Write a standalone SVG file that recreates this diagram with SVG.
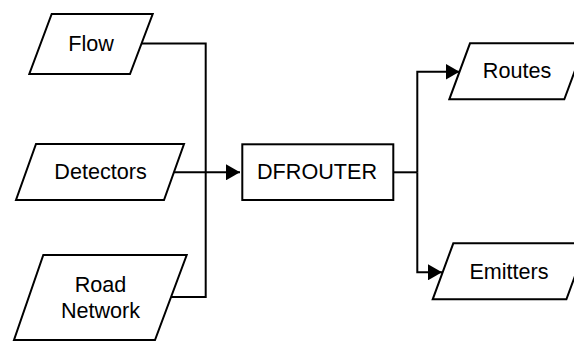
<svg xmlns="http://www.w3.org/2000/svg" width="574" height="342" viewBox="0 0 574 342">
<style>
.shape{fill:#fff;stroke:#000;stroke-width:2;stroke-linejoin:miter}
.lbl{font-family:"Liberation Sans",Arial,Helvetica,sans-serif;font-size:21.6px;fill:#000;text-anchor:middle}
.edge{fill:none;stroke:#000;stroke-width:2}
</style>
<defs>
<marker id="arrow" viewBox="0 0 14 16" refX="14" refY="8" markerWidth="14" markerHeight="16" markerUnits="userSpaceOnUse" orient="auto">
<path d="M0,0 L14,8 L0,16 Z" fill="#000"/>
</marker>
</defs>
<rect width="574" height="342" fill="#fff"/>
<g id="connectors">
<path class="edge" d="M141.5,43.5 H205.7 V297 H171"/>
<path class="edge" d="M174,172.3 H240" marker-end="url(#arrow)"/>
<path class="edge" d="M393.3,172.3 H417.3"/>
<path class="edge" d="M417.3,172.3 V71.7 H459.5" marker-end="url(#arrow)"/>
<path class="edge" d="M417.3,172.3 V272.3 H442" marker-end="url(#arrow)"/>
</g>
<g id="flow">
<polygon class="shape" points="51.7,14 152.7,14 130,74 29.3,74"/>
<text class="lbl" x="91" y="50.7">Flow</text>
</g>
<g id="detectors">
<polygon class="shape" points="36,144 184,144 164,200 16,200"/>
<text class="lbl" x="100.5" y="179.3">Detectors</text>
</g>
<g id="road-network">
<polygon class="shape" points="43.3,255 186.7,255 155,340 14,340"/>
<text class="lbl" x="100.5" y="291.7">Road</text>
<text class="lbl" x="100.5" y="318.3">Network</text>
</g>
<g id="dfrouter">
<rect class="shape" x="242.3" y="144.3" width="151" height="55.7"/>
<text class="lbl" x="317" y="179.3">DFROUTER</text>
</g>
<g id="routes">
<polygon class="shape" points="470,43.3 585,43.3 564.3,99.3 449.3,99.3"/>
<text class="lbl" x="517" y="78.3">Routes</text>
</g>
<g id="emitters">
<polygon class="shape" points="453.3,243.3 587,243.3 566.4,299.3 432.7,299.3"/>
<text class="lbl" x="509" y="279.3">Emitters</text>
</g>
</svg>
